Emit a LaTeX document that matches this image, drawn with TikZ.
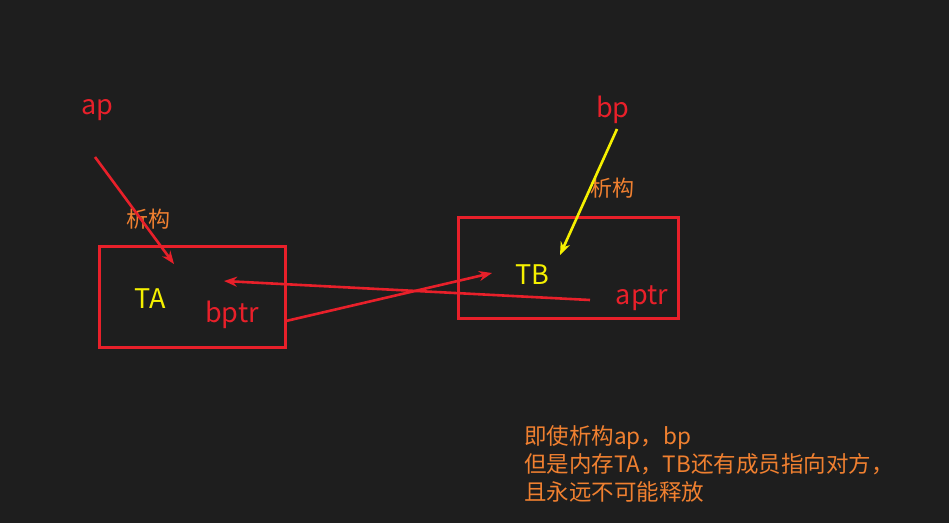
\documentclass[tikz,border=0pt]{standalone}
\usepackage{fontspec}
\setmainfont{Noto Sans CJK SC}
\usetikzlibrary{arrows.meta}
\definecolor{bg}{HTML}{1E1E1E}
\definecolor{ptrred}{HTML}{E8202A}
\definecolor{objyel}{HTML}{F5F000}
\definecolor{noteorg}{HTML}{F08030}
\tikzset{
  objbox/.style={draw=ptrred, line width=3pt},
  ptrlbl/.style={text=ptrred, font=\fontsize{27}{30}\selectfont, inner sep=0pt},
  objlbl/.style={text=objyel, font=\fontsize{27}{30}\selectfont, inner sep=0pt},
  notelbl/.style={text=noteorg, font=\fontsize{22}{26}\selectfont, inner sep=0pt},
  ptrarrow/.style={draw=ptrred, line width=2.6pt, -{Stealth[length=13pt,width=10pt]}},
}
\begin{document}
\begin{tikzpicture}[x=1pt,y=-1pt]
\fill[bg] (0,0) rectangle (949,523);
\useasboundingbox (0,0) rectangle (949,523);
\node[objbox, minimum width=186pt, minimum height=101pt, inner sep=0pt] (boxa) at (192,296.5){};
\node[objbox, minimum width=220pt, minimum height=101pt, inner sep=0pt] (boxb) at (568,267.5){};
\node[ptrlbl] (ap) at (97,110){ap};
\node[ptrlbl] (bp) at (613,110){bp};
\node[objlbl] (ta) at (150,299){TA};
\node[objlbl] (tb) at (532,275){TB};
\node[ptrlbl] (bptr) at (232,315){bptr};
\node[ptrlbl] (aptr) at (642,298){aptr};
\node[notelbl] (dtora) at (148,219){析构};
\node[notelbl] (dtorb) at (612,188){析构};
\coordinate (apst) at (95,157);
\coordinate (apend) at (174,264);
\coordinate (bpst) at (617,129);
\coordinate (bpend) at (560,255);
\coordinate (aptrst) at (590,300);
\coordinate (aptrend) at (224,281);
\coordinate (bptrst) at (286,321);
\coordinate (bptrend) at (492,273);
\draw[ptrarrow] (apst) -- (apend);
\draw[ptrarrow, draw=objyel] (bpst) -- (bpend);
\draw[ptrarrow] (aptrst) -- (aptrend);
\draw[ptrarrow] (bptrst) -- (bptrend);
\node[notelbl, font=\fontsize{22.5}{28}\selectfont, anchor=north west, align=left] (note) at (524,425){即使析构ap，bp\\但是内存TA，TB还有成员指向对方，\\且永远不可能释放};
\end{tikzpicture}
\end{document}
